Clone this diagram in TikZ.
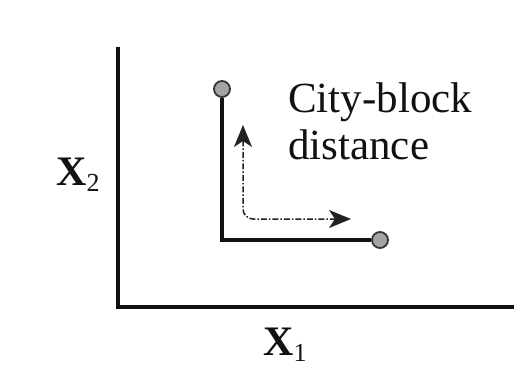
\documentclass[tikz,border=0pt]{standalone}
\usepackage{fontspec}
\setmainfont{Liberation Serif}
\usetikzlibrary{arrows.meta,positioning,calc}
\definecolor{ink}{HTML}{111111}
\definecolor{dot}{HTML}{A3A3A3}
\definecolor{trail}{HTML}{222222}
\tikzset{
  >={Stealth[length=22pt,width=18pt,inset=6pt]},
  every node/.style={text=ink},
  axis/.style={draw=ink,line width=4.5pt,miter limit=10},
  route/.style={draw=ink,line width=4.5pt},
  point/.style={circle,draw=ink!85,fill=dot,line width=1.8pt,minimum size=16pt,inner sep=0pt},
  trip/.style={<->,draw=trail,line width=1.5pt,dash pattern=on 6pt off 2pt on 1.5pt off 2pt,rounded corners=10pt},
  textlbl/.style={font=\fontsize{43}{47}\selectfont,align=left,inner sep=0pt},
  axlbl/.style={font=\fontsize{42}{46}\selectfont,inner sep=0pt},
}
\newcommand{\axname}[2]{\textbf{#1}\raisebox{-0.35ex}{\fontsize{26}{26}\selectfont #2}}

\begin{document}
\begin{tikzpicture}[x=1pt,y=-1pt]
\useasboundingbox[fill=white] (0,0) rectangle (528,369);
% axes
\coordinate (ytop) at (118,47);
\coordinate (xend) at (514,307);
\draw[axis] (ytop) |- (xend);
\node[axlbl,anchor=base west] (x2) at (56,185) {\axname{X}{2}};
\node[axlbl,anchor=base west] (x1) at (263,355) {\axname{X}{1}};
% the two points and their city-block route
\node[point] (ptA) at (222,89) {};
\node[point] (ptB) at (380,240) {};
\draw[route] (ptA) |- (ptB);
% dashed path along the blocks
\coordinate (tripup) at (243,125);
\coordinate (tripright) at (351,219);
\draw[trip] (tripup) |- (tripright);
\node[textlbl,anchor=base west] (dist) at (288,159) {City-block\\distance};
\end{tikzpicture}
\end{document}
